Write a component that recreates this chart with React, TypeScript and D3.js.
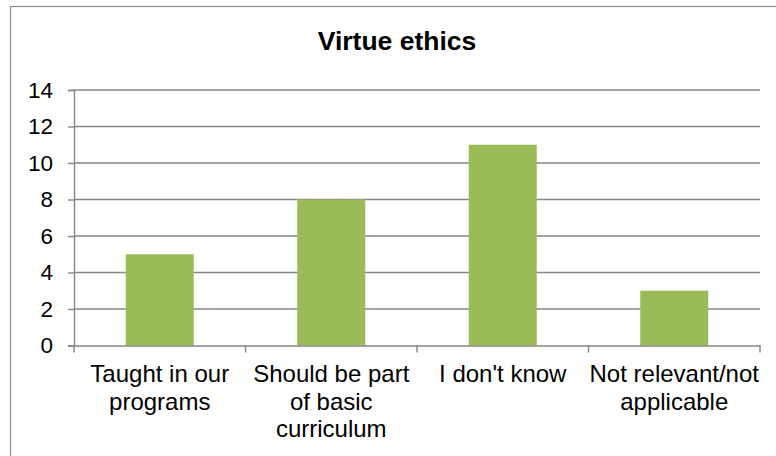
import React, { useEffect, useRef } from "react";
import { select, scaleBand, scaleLinear, axisLeft, axisBottom } from "d3";

const chartTitle = "Virtue ethics";
const categories = [
  "Taught in our programs",
  "Should be part of basic curriculum",
  "I don't know",
  "Not relevant/not applicable",
];
const counts = [5, 8, 11, 3];
const yTicks = [0, 2, 4, 6, 8, 10, 12, 14];

const W = 776;
const H = 456;
const FONT = "Liberation Sans, Arial, sans-serif";

const App = () => {
  const ref = useRef<SVGSVGElement>(null);

  useEffect(() => {
    const svg = select(ref.current);
    svg.selectAll("*").remove();

    const left = 74;
    const right = 760;
    const top = 90;
    const bottom = 345.5;

    // outer chart border
    svg
      .append("rect")
      .attr("x", 10.5)
      .attr("y", 6.5)
      .attr("width", W + 20)
      .attr("height", H + 20)
      .attr("fill", "white")
      .attr("stroke", "#8c8c8c")
      .attr("stroke-width", 1.2);

    svg
      .append("text")
      .attr("x", 397)
      .attr("y", 50)
      .attr("text-anchor", "middle")
      .style("font-family", FONT)
      .style("font-size", "26.5px")
      .style("font-weight", "bold")
      .text(chartTitle);

    const x = scaleBand<string>().domain(categories).range([left, right]).paddingInner(0).paddingOuter(0);
    const y = scaleLinear().domain([0, 14]).range([bottom, top]);

    // gridlines
    svg
      .append("g")
      .selectAll("line")
      .data(yTicks.filter((d) => d > 0))
      .join("line")
      .attr("x1", left)
      .attr("x2", right)
      .attr("y1", (d) => y(d))
      .attr("y2", (d) => y(d))
      .attr("stroke", "#868686")
      .attr("stroke-width", 1.4);

    // bars
    const barW = 68;
    svg
      .append("g")
      .selectAll("rect")
      .data(counts)
      .join("rect")
      .attr("x", (d, i) => (x(categories[i]) as number) + x.bandwidth() / 2 - barW / 2)
      .attr("y", (d) => y(d))
      .attr("width", barW)
      .attr("height", (d) => y(0) - y(d))
      .attr("fill", "#9bbb59");

    // y axis
    const gy = svg
      .append("g")
      .attr("transform", `translate(${left},0)`)
      .call(axisLeft(y).tickValues(yTicks).tickSize(6).tickPadding(15));
    gy.selectAll("line, path").attr("stroke", "#868686").attr("stroke-width", 1.4);
    gy.selectAll("text")
      .attr("fill", "black")
      .style("font-family", FONT)
      .style("font-size", "22.5px");

    // x axis
    const gx = svg
      .append("g")
      .attr("transform", `translate(0,${bottom})`)
      .call(axisBottom(x).tickSize(0).tickFormat(() => ""));
    gx.selectAll("path").attr("stroke", "#868686").attr("stroke-width", 1.4);
    gx.selectAll("text").remove();

    const edges = categories.map((c) => x(c) as number).concat([right]);
    svg
      .append("g")
      .selectAll("line")
      .data(edges)
      .join("line")
      .attr("x1", (d) => d)
      .attr("x2", (d) => d)
      .attr("y1", bottom)
      .attr("y2", bottom + 7)
      .attr("stroke", "#868686")
      .attr("stroke-width", 1.4);

    // wrapped category labels
    const maxW = 170;
    categories.forEach((c) => {
      const cx = (x(c) as number) + x.bandwidth() / 2;
      const t = svg
        .append("text")
        .attr("text-anchor", "middle")
        .style("font-family", FONT)
        .style("font-size", "24px")
        .attr("fill", "black");
      const words = c.split(" ");
      let lineNo = 0;
      let cur: string[] = [];
      let tspan = t.append("tspan").attr("x", cx).attr("y", 382);
      words.forEach((w) => {
        cur.push(w);
        tspan.text(cur.join(" "));
        const node = tspan.node() as SVGTSpanElement;
        if (node.getComputedTextLength() > maxW && cur.length > 1) {
          cur.pop();
          tspan.text(cur.join(" "));
          cur = [w];
          lineNo += 1;
          tspan = t
            .append("tspan")
            .attr("x", cx)
            .attr("y", 382 + lineNo * 27.5)
            .text(w);
        }
      });
    });
  }, []);

  return (
    <svg
      ref={ref}
      width={W}
      height={H}
      style={{ position: "absolute", left: 0, top: 0, background: "white" }}
    />
  );
};

export default App;
